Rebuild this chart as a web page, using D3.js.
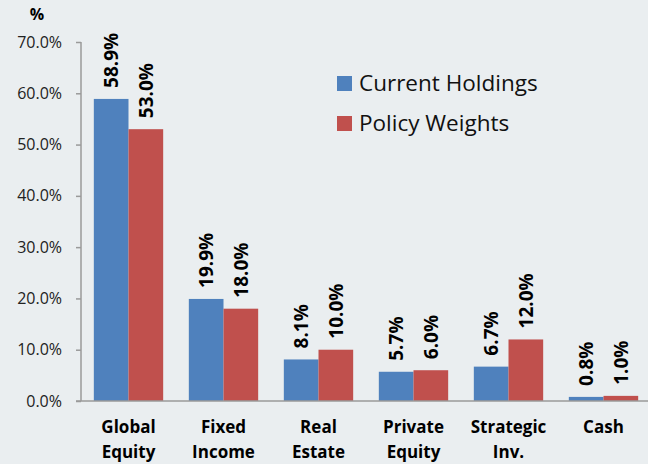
<!DOCTYPE html>
<html>
<head>
<meta charset="utf-8">
<script src="https://d3js.org/d3.v7.min.js"></script>
<style>
body { margin: 0; background: #eaeef0; }
svg { display: block; }
.tick text { font-family: "Open Sans", sans-serif; font-size: 16px; fill: #222; }
.bar-label { font-family: "Open Sans", sans-serif; font-weight: bold; font-size: 19px; fill: #000; }
.cat-label { font-family: "Open Sans", sans-serif; font-weight: bold; font-size: 17px; fill: #000; }
.legend text { font-family: "Open Sans", sans-serif; font-size: 22.5px; fill: #111; }
</style>
</head>
<body>
<svg width="648" height="464"></svg>
<script>
var categories = [["Global", "Equity"], ["Fixed", "Income"], ["Real", "Estate"], ["Private", "Equity"], ["Strategic", "Inv."], ["Cash"]];
var seriesNames = ["Current Holdings", "Policy Weights"];
var currentHoldings = [58.9, 19.9, 8.1, 5.7, 6.7, 0.8];
var policyWeights = [53.0, 18.0, 10.0, 6.0, 12.0, 1.0];
var yTicks = [0, 10, 20, 30, 40, 50, 60, 70];
var colors = ["#4f81bd", "#c0504d"];

var svg = d3.select("svg");
var margin = {top: 42, left: 81, bottom: 63};
var height = 464 - margin.top - margin.bottom;
var series = [currentHoldings, policyWeights];

var x0 = d3.scaleBand().domain(d3.range(categories.length)).range([margin.left, 651]).paddingInner(0.27).paddingOuter(0.135);
var x1 = d3.scaleBand().domain([0, 1]).range([0, x0.bandwidth()]);
var y = d3.scaleLinear().domain([0, 70]).range([margin.top + height, margin.top]);

// y axis
var yAxis = svg.append("g").attr("transform", "translate(" + margin.left + ",0)")
  .call(d3.axisLeft(y).tickValues(yTicks).tickSize(5).tickPadding(14).tickFormat(function(d){ return d.toFixed(1) + "%"; }));
yAxis.selectAll("line, path").attr("stroke", "#9a9a9a").attr("stroke-width", 1.5);
yAxis.select(".domain").attr("d", "M0," + y(70) + "V" + y(0));

svg.append("text").attr("x", 37).attr("y", 20).attr("text-anchor", "middle")
  .style("font", "bold 16px 'Open Sans', sans-serif").text("%");

// bars
var groups = svg.selectAll(".grp").data(categories).enter().append("g")
  .attr("transform", function(d, i){ return "translate(" + x0(i) + ",0)"; });
series.forEach(function(vals, s) {
  groups.append("rect")
    .attr("x", x1(s)).attr("width", x1.bandwidth())
    .attr("y", function(d, i){ return y(vals[i]); })
    .attr("height", function(d, i){ return y(0) - y(vals[i]); })
    .attr("fill", colors[s]);
  groups.append("text").attr("class", "bar-label")
    .attr("transform", function(d, i){ return "translate(" + (x1(s) + x1.bandwidth() / 2 + 7) + "," + (y(vals[i]) - 11) + ") rotate(-90)"; })
    .text(function(d, i){ return vals[i].toFixed(1) + "%"; });
});

// x axis line
svg.append("line").attr("x1", margin.left - 5).attr("x2", 651).attr("y1", y(0)).attr("y2", y(0))
  .attr("stroke", "#9a9a9a").attr("stroke-width", 1.5);

// category labels
groups.each(function(d) {
  var t = d3.select(this).append("text").attr("class", "cat-label").attr("text-anchor", "middle");
  d.forEach(function(line, k) {
    t.append("tspan").attr("x", x0.bandwidth() / 2).attr("y", 433 + k * 25).text(line);
  });
});

// legend
var legend = svg.append("g").attr("class", "legend");
seriesNames.forEach(function(name, s) {
  legend.append("rect").attr("x", 337).attr("y", 76 + s * 40).attr("width", 15).attr("height", 15).attr("fill", colors[s]);
  legend.append("text").attr("x", 359).attr("y", 91 + s * 40).text(name);
});
</script>
</body>
</html>
